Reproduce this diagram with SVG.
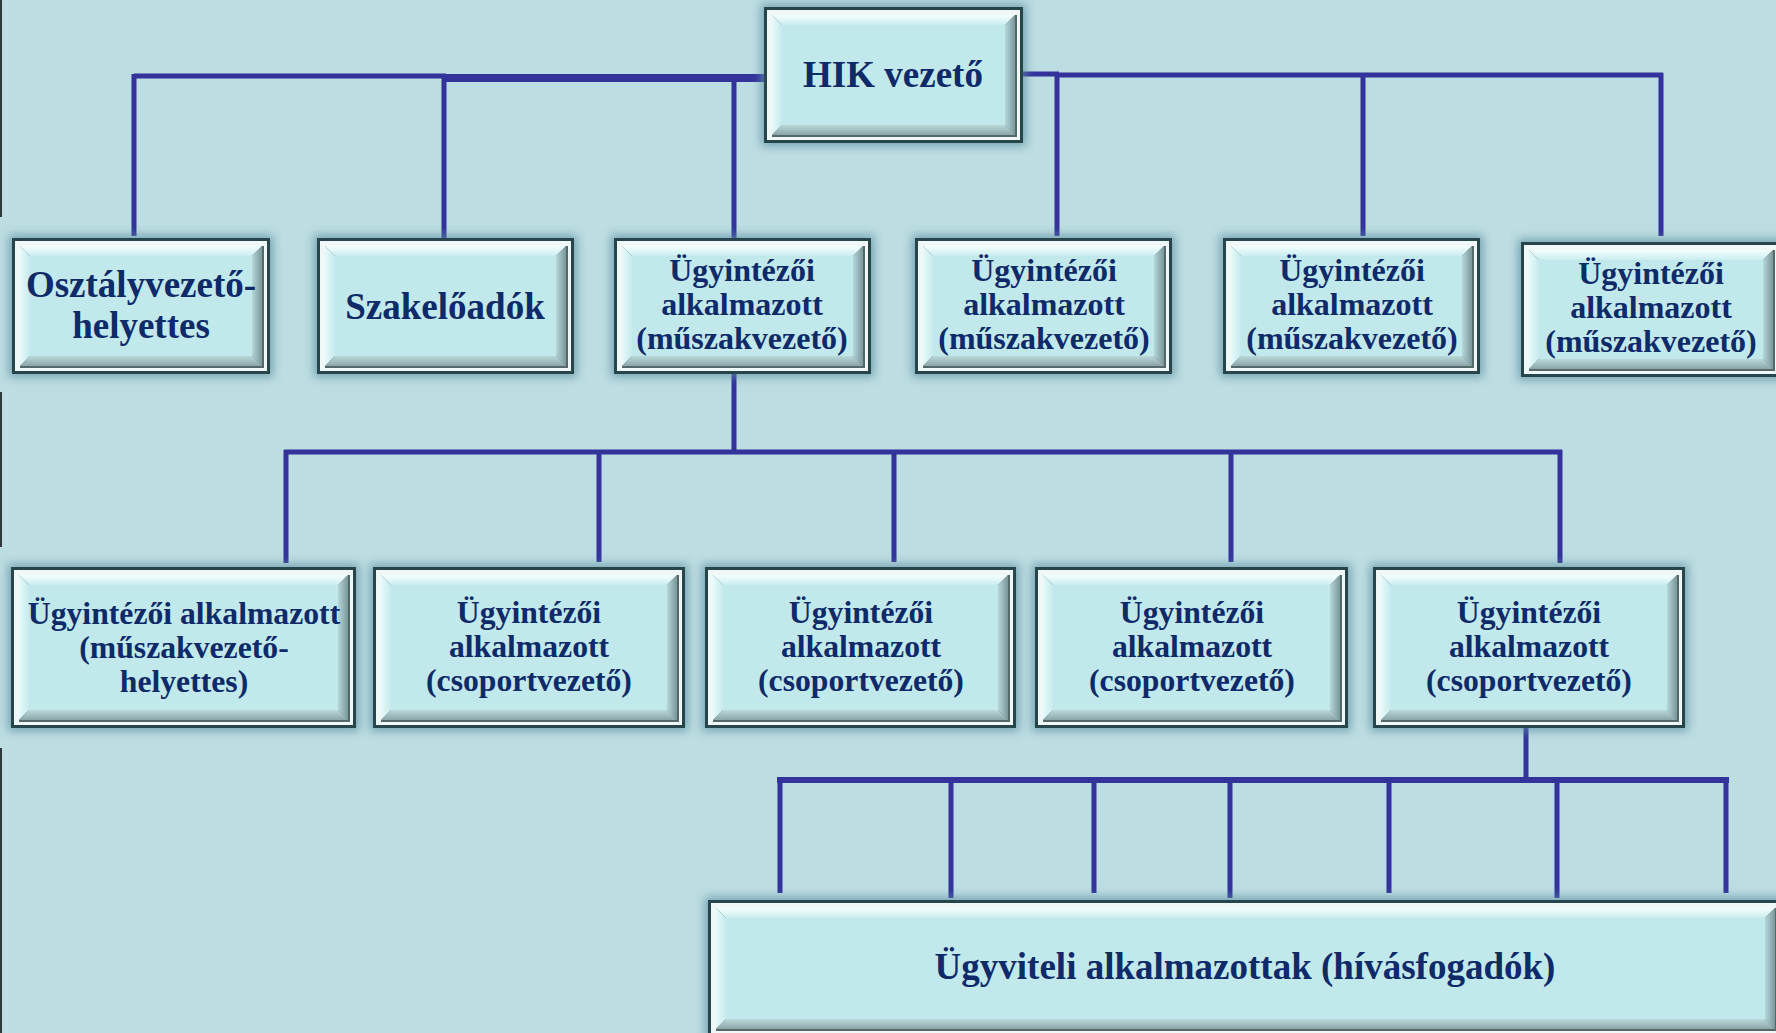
<svg xmlns="http://www.w3.org/2000/svg" width="1776" height="1033" viewBox="0 0 1776 1033">
<defs>
<filter id="glow" x="-10%" y="-15%" width="120%" height="130%"><feGaussianBlur stdDeviation="5"/></filter>
<linearGradient id="gT" x1="0" y1="0" x2="0" y2="1"><stop offset="0" stop-color="#f6ffff"/><stop offset="1" stop-color="#c9edef"/></linearGradient>
<linearGradient id="gL" x1="0" y1="0" x2="1" y2="0"><stop offset="0" stop-color="#e6fafb"/><stop offset="1" stop-color="#c6eaec"/></linearGradient>
<linearGradient id="gR" x1="0" y1="0" x2="1" y2="0"><stop offset="0" stop-color="#b6d8db"/><stop offset="1" stop-color="#7a9699"/></linearGradient>
<linearGradient id="gB" x1="0" y1="0" x2="0" y2="1"><stop offset="0" stop-color="#bad9db"/><stop offset="1" stop-color="#8ba5a7"/></linearGradient>
<style>
.sh{fill:#5f8fa4;opacity:.75;filter:url(#glow)}
.ob{fill:#27464c}
.fr{fill:#f0f7f7}
.dk{fill:#55696b}
.bt{fill:url(#gT)}
.bl{fill:url(#gL)}
.br{fill:url(#gR)}
.bb{fill:url(#gB)}
.pl{fill:#c1e8eb}
.t{font-family:"Liberation Serif","Times New Roman",serif;font-weight:bold;fill:#0e2a68;text-anchor:middle}
.m{font-size:32px}
.s{font-size:31.7px}
.c{stroke:#33339b;stroke-width:5;fill:none}
</style>
</defs>
<rect x="0" y="0" width="1776" height="1033" fill="#bcdde1"/>
<g id="edge" fill="#2e3a3e">
<rect x="0" y="0" width="2" height="217"/>
<rect x="0" y="392" width="2" height="155"/>
<rect x="0" y="748" width="2" height="285"/>
</g>

<g id="connectors">
<path class="c" d="M134,76H446M134,74V236M444,76V241"/>
<path class="c" style="stroke-width:8" d="M444,78H772"/>
<path class="c" d="M734,78V238"/>
<path class="c" d="M1021,74H1059M1057,73V236M1057,75H1663M1363,75V236M1661,73V236"/>
<path class="c" d="M734,374V452M284,452H1562M286,450V563M599,452V562M894,452V562M1231,452V562M1560,450V563"/>
<path class="c" d="M1526,728V780"/>
<path class="c" style="stroke-width:6" d="M777,780H1729"/>
<path class="c" d="M780,778V893M951,780V898M1094,780V893M1230,780V898M1389,780V893M1557,780V898M1726,778V893"/>
</g>

<g id="n-hik">
<rect class="sh" x="761" y="4" width="265" height="142"/>
<rect class="ob" x="764" y="7" width="259" height="136"/>
<rect class="fr" x="767" y="10" width="253" height="130"/>
<rect class="dk" x="772" y="15" width="245" height="122"/>
<polygon class="bt" points="772,15 1015,15 1005,25 782,25"/>
<polygon class="bl" points="772,15 782,25 782,125 772,135"/>
<polygon class="br" points="1015,15 1015,135 1005,125 1005,25"/>
<polygon class="bb" points="772,135 1015,135 1005,125 782,125"/>
<rect class="pl" x="782" y="25" width="223" height="100"/>
<text class="t" x="893" y="87" font-size="37">HIK vezető</text>
</g>

<g id="n-osztalyvezeto-helyettes">
<rect class="sh" x="9" y="235" width="264" height="142"/>
<rect class="ob" x="12" y="238" width="258" height="136"/>
<rect class="fr" x="15" y="241" width="252" height="130"/>
<rect class="dk" x="20" y="246" width="244" height="122"/>
<polygon class="bt" points="20,246 262,246 252,256 30,256"/>
<polygon class="bl" points="20,246 30,256 30,356 20,366"/>
<polygon class="br" points="262,246 262,366 252,356 252,256"/>
<polygon class="bb" points="20,366 262,366 252,356 30,356"/>
<rect class="pl" x="30" y="256" width="222" height="100"/>
<text class="t" x="141" y="297" font-size="37">Osztályvezető-</text>
<text class="t" x="141" y="338" font-size="37">helyettes</text>
</g>

<g id="n-szakeloadok">
<rect class="sh" x="314" y="235" width="263" height="142"/>
<rect class="ob" x="317" y="238" width="257" height="136"/>
<rect class="fr" x="320" y="241" width="251" height="130"/>
<rect class="dk" x="325" y="246" width="243" height="122"/>
<polygon class="bt" points="325,246 566,246 556,256 335,256"/>
<polygon class="bl" points="325,246 335,256 335,356 325,366"/>
<polygon class="br" points="566,246 566,366 556,356 556,256"/>
<polygon class="bb" points="325,366 566,366 556,356 335,356"/>
<rect class="pl" x="335" y="256" width="221" height="100"/>
<text class="t" x="445" y="319" font-size="37">Szakelőadók</text>
</g>

<g id="n-muszakvezeto-1">
<rect class="sh" x="611" y="235" width="263" height="142"/>
<rect class="ob" x="614" y="238" width="257" height="136"/>
<rect class="fr" x="617" y="241" width="251" height="130"/>
<rect class="dk" x="622" y="246" width="243" height="122"/>
<polygon class="bt" points="622,246 863,246 853,256 632,256"/>
<polygon class="bl" points="622,246 632,256 632,356 622,366"/>
<polygon class="br" points="863,246 863,366 853,356 853,256"/>
<polygon class="bb" points="622,366 863,366 853,356 632,356"/>
<rect class="pl" x="632" y="256" width="221" height="100"/>
<text class="t m" x="742" y="281">Ügyintézői</text>
<text class="t m" x="742" y="315">alkalmazott</text>
<text class="t m" x="742" y="349">(műszakvezető)</text>
</g>

<g id="n-muszakvezeto-2">
<rect class="sh" x="912" y="235" width="263" height="142"/>
<rect class="ob" x="915" y="238" width="257" height="136"/>
<rect class="fr" x="918" y="241" width="251" height="130"/>
<rect class="dk" x="923" y="246" width="243" height="122"/>
<polygon class="bt" points="923,246 1164,246 1154,256 933,256"/>
<polygon class="bl" points="923,246 933,256 933,356 923,366"/>
<polygon class="br" points="1164,246 1164,366 1154,356 1154,256"/>
<polygon class="bb" points="923,366 1164,366 1154,356 933,356"/>
<rect class="pl" x="933" y="256" width="221" height="100"/>
<text class="t m" x="1044" y="281">Ügyintézői</text>
<text class="t m" x="1044" y="315">alkalmazott</text>
<text class="t m" x="1044" y="349">(műszakvezető)</text>
</g>

<g id="n-muszakvezeto-3">
<rect class="sh" x="1220" y="235" width="263" height="142"/>
<rect class="ob" x="1223" y="238" width="257" height="136"/>
<rect class="fr" x="1226" y="241" width="251" height="130"/>
<rect class="dk" x="1231" y="246" width="243" height="122"/>
<polygon class="bt" points="1231,246 1472,246 1462,256 1241,256"/>
<polygon class="bl" points="1231,246 1241,256 1241,356 1231,366"/>
<polygon class="br" points="1472,246 1472,366 1462,356 1462,256"/>
<polygon class="bb" points="1231,366 1472,366 1462,356 1241,356"/>
<rect class="pl" x="1241" y="256" width="221" height="100"/>
<text class="t m" x="1352" y="281">Ügyintézői</text>
<text class="t m" x="1352" y="315">alkalmazott</text>
<text class="t m" x="1352" y="349">(műszakvezető)</text>
</g>

<g id="n-muszakvezeto-4">
<rect class="sh" x="1518" y="239" width="266" height="141"/>
<rect class="ob" x="1521" y="242" width="260" height="135"/>
<rect class="fr" x="1524" y="245" width="254" height="129"/>
<rect class="dk" x="1529" y="250" width="246" height="121"/>
<polygon class="bt" points="1529,250 1773,250 1763,260 1539,260"/>
<polygon class="bl" points="1529,250 1539,260 1539,359 1529,369"/>
<polygon class="br" points="1773,250 1773,369 1763,359 1763,260"/>
<polygon class="bb" points="1529,369 1773,369 1763,359 1539,359"/>
<rect class="pl" x="1539" y="260" width="224" height="99"/>
<text class="t m" x="1651" y="284">Ügyintézői</text>
<text class="t m" x="1651" y="318">alkalmazott</text>
<text class="t m" x="1651" y="352">(műszakvezető)</text>
</g>

<g id="n-muszakvezeto-helyettes">
<rect class="sh" x="8" y="564" width="351" height="167"/>
<rect class="ob" x="11" y="567" width="345" height="161"/>
<rect class="fr" x="14" y="570" width="339" height="155"/>
<rect class="dk" x="19" y="575" width="331" height="147"/>
<polygon class="bt" points="19,575 348,575 338,585 29,585"/>
<polygon class="bl" points="19,575 29,585 29,710 19,720"/>
<polygon class="br" points="348,575 348,720 338,710 338,585"/>
<polygon class="bb" points="19,720 348,720 338,710 29,710"/>
<rect class="pl" x="29" y="585" width="309" height="125"/>
<text class="t s" x="184" y="624">Ügyintézői alkalmazott</text>
<text class="t s" x="184" y="658">(műszakvezető-</text>
<text class="t s" x="184" y="692">helyettes)</text>
</g>

<g id="n-csoportvezeto-1">
<rect class="sh" x="370" y="564" width="318" height="167"/>
<rect class="ob" x="373" y="567" width="312" height="161"/>
<rect class="fr" x="376" y="570" width="306" height="155"/>
<rect class="dk" x="381" y="575" width="298" height="147"/>
<polygon class="bt" points="381,575 677,575 667,585 391,585"/>
<polygon class="bl" points="381,575 391,585 391,710 381,720"/>
<polygon class="br" points="677,575 677,720 667,710 667,585"/>
<polygon class="bb" points="381,720 677,720 667,710 391,710"/>
<rect class="pl" x="391" y="585" width="276" height="125"/>
<text class="t s" x="529" y="623">Ügyintézői</text>
<text class="t s" x="529" y="657">alkalmazott</text>
<text class="t s" x="529" y="691">(csoportvezető)</text>
</g>

<g id="n-csoportvezeto-2">
<rect class="sh" x="702" y="564" width="317" height="167"/>
<rect class="ob" x="705" y="567" width="311" height="161"/>
<rect class="fr" x="708" y="570" width="305" height="155"/>
<rect class="dk" x="713" y="575" width="297" height="147"/>
<polygon class="bt" points="713,575 1008,575 998,585 723,585"/>
<polygon class="bl" points="713,575 723,585 723,710 713,720"/>
<polygon class="br" points="1008,575 1008,720 998,710 998,585"/>
<polygon class="bb" points="713,720 1008,720 998,710 723,710"/>
<rect class="pl" x="723" y="585" width="275" height="125"/>
<text class="t s" x="861" y="623">Ügyintézői</text>
<text class="t s" x="861" y="657">alkalmazott</text>
<text class="t s" x="861" y="691">(csoportvezető)</text>
</g>

<g id="n-csoportvezeto-3">
<rect class="sh" x="1032" y="564" width="319" height="167"/>
<rect class="ob" x="1035" y="567" width="313" height="161"/>
<rect class="fr" x="1038" y="570" width="307" height="155"/>
<rect class="dk" x="1043" y="575" width="299" height="147"/>
<polygon class="bt" points="1043,575 1340,575 1330,585 1053,585"/>
<polygon class="bl" points="1043,575 1053,585 1053,710 1043,720"/>
<polygon class="br" points="1340,575 1340,720 1330,710 1330,585"/>
<polygon class="bb" points="1043,720 1340,720 1330,710 1053,710"/>
<rect class="pl" x="1053" y="585" width="277" height="125"/>
<text class="t s" x="1192" y="623">Ügyintézői</text>
<text class="t s" x="1192" y="657">alkalmazott</text>
<text class="t s" x="1192" y="691">(csoportvezető)</text>
</g>

<g id="n-csoportvezeto-4">
<rect class="sh" x="1370" y="564" width="318" height="167"/>
<rect class="ob" x="1373" y="567" width="312" height="161"/>
<rect class="fr" x="1376" y="570" width="306" height="155"/>
<rect class="dk" x="1381" y="575" width="298" height="147"/>
<polygon class="bt" points="1381,575 1677,575 1667,585 1391,585"/>
<polygon class="bl" points="1381,575 1391,585 1391,710 1381,720"/>
<polygon class="br" points="1677,575 1677,720 1667,710 1667,585"/>
<polygon class="bb" points="1381,720 1677,720 1667,710 1391,710"/>
<rect class="pl" x="1391" y="585" width="276" height="125"/>
<text class="t s" x="1529" y="623">Ügyintézői</text>
<text class="t s" x="1529" y="657">alkalmazott</text>
<text class="t s" x="1529" y="691">(csoportvezető)</text>
</g>

<g id="n-ugyviteli">
<rect class="sh" x="705" y="897" width="1081" height="143"/>
<rect class="ob" x="708" y="900" width="1075" height="137"/>
<rect class="fr" x="711" y="903" width="1069" height="131"/>
<rect class="dk" x="716" y="908" width="1061" height="123"/>
<polygon class="bt" points="716,908 1775,908 1765,918 726,918"/>
<polygon class="bl" points="716,908 726,918 726,1019 716,1029"/>
<polygon class="br" points="1775,908 1775,1029 1765,1019 1765,918"/>
<polygon class="bb" points="716,1029 1775,1029 1765,1019 726,1019"/>
<rect class="pl" x="726" y="918" width="1039" height="101"/>
<text class="t" x="1245" y="979" font-size="37">Ügyviteli alkalmazottak (hívásfogadók)</text>
</g>
</svg>
